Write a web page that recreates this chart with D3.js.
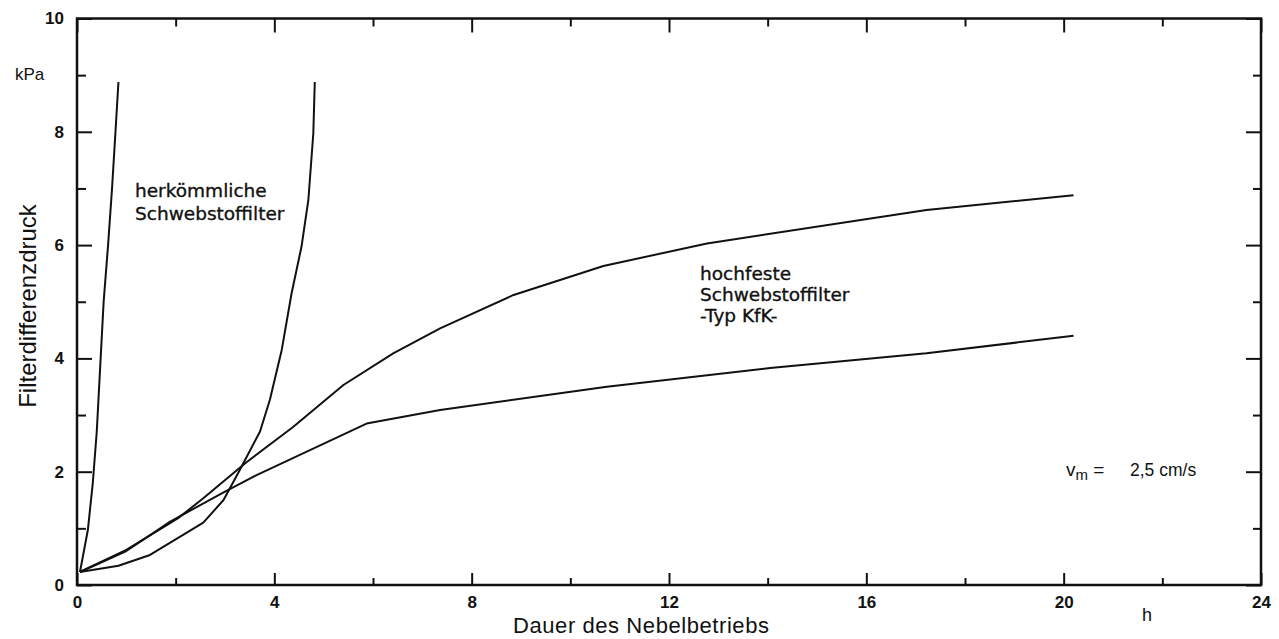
<!DOCTYPE html>
<html>
<head>
<meta charset="utf-8">
<script src="https://cdn.jsdelivr.net/npm/d3@7/dist/d3.min.js"></script>
<style>
  html, body { margin: 0; padding: 0; background: #fff; }
  svg { display: block; }
  .tick text { font-family: "Liberation Sans", Arial, sans-serif; font-weight: bold; font-size: 17px; fill: #111; }
</style>
</head>
<body>
<svg id="chart" width="1279" height="639"></svg>
<script>
// Filter pressure drop (kPa) over fog operation time (h)
const xMajorTicks = [0, 4, 8, 12, 16, 20, 24];
const xMinorTicks = [2, 6, 10, 14, 18, 22];
const yMajorTicks = [0, 2, 4, 6, 8, 10];
const yMinorTicks = [1, 3, 5, 7, 9];

// conventional HEPA filters (two curves)
const conventional1 = [[0.06,0.23],[0.22,0.97],[0.32,1.8],[0.4,2.7],[0.47,3.85],[0.54,5.0],[0.63,6.0],[0.71,7.0],[0.78,8.0],[0.84,8.88]];
const conventional2 = [[0.06,0.23],[0.84,0.34],[1.48,0.53],[2.56,1.1],[2.97,1.5],[3.3,2.03],[3.71,2.71],[3.91,3.27],[4.15,4.15],[4.35,5.15],[4.55,5.97],[4.69,6.8],[4.79,7.97],[4.82,8.88]];
// high-strength filters, type KfK (two curves)
const kfkUpper = [[0.06,0.23],[1.0,0.62],[2.05,1.18],[2.56,1.53],[3.41,2.15],[4.38,2.79],[5.4,3.53],[6.41,4.09],[7.36,4.53],[8.85,5.12],[10.67,5.63],[12.77,6.03],[17.22,6.62],[20.2,6.88]];
const kfkLower = [[0.06,0.23],[1.0,0.6],[1.89,1.12],[3.0,1.65],[3.64,1.94],[5.87,2.85],[7.36,3.09],[10.74,3.5],[14.05,3.83],[17.22,4.09],[20.2,4.4]];

const svg = d3.select("#chart");
const plotLeft = 77, plotRight = 1261, plotTop = 18.5, plotBottom = 585;

const x = d3.scaleLinear().domain([0, 24]).range([plotLeft, plotRight]);
const y = d3.scaleLinear().domain([0, 10]).range([plotBottom, plotTop]);

function styleAxis(g) {
  g.select(".domain").remove();
  g.selectAll(".tick line").attr("stroke", "#111").attr("stroke-width", 2);
}

// bottom axis: major with labels, minor without
svg.append("g").attr("transform", `translate(0,${plotBottom})`)
  .call(d3.axisBottom(x).tickValues(xMajorTicks).tickSize(-12).tickPadding(11).tickFormat(d3.format("d")))
  .call(styleAxis).call(g => g.selectAll("text").attr("dy", "0.71em"));
svg.append("g").attr("transform", `translate(0,${plotBottom})`)
  .call(d3.axisBottom(x).tickValues(xMinorTicks).tickSize(-7).tickFormat(""))
  .call(styleAxis);
// top axis
svg.append("g").attr("transform", `translate(0,${plotTop})`)
  .call(d3.axisTop(x).tickValues(xMajorTicks).tickSize(-14).tickFormat(""))
  .call(styleAxis);
svg.append("g").attr("transform", `translate(0,${plotTop})`)
  .call(d3.axisTop(x).tickValues(xMinorTicks).tickSize(-8).tickFormat(""))
  .call(styleAxis);
// left axis
svg.append("g").attr("transform", `translate(${plotLeft},0)`)
  .call(d3.axisLeft(y).tickValues(yMajorTicks).tickSize(-15).tickPadding(13).tickFormat(d3.format("d")))
  .call(styleAxis);
svg.append("g").attr("transform", `translate(${plotLeft},0)`)
  .call(d3.axisLeft(y).tickValues(yMinorTicks).tickSize(-9).tickFormat(""))
  .call(styleAxis);
// right axis
svg.append("g").attr("transform", `translate(${plotRight},0)`)
  .call(d3.axisRight(y).tickValues(yMajorTicks).tickSize(-15).tickFormat(""))
  .call(styleAxis);
svg.append("g").attr("transform", `translate(${plotRight},0)`)
  .call(d3.axisRight(y).tickValues(yMinorTicks).tickSize(-8).tickFormat(""))
  .call(styleAxis);

// frame
svg.append("rect")
  .attr("x", plotLeft).attr("y", plotTop)
  .attr("width", plotRight - plotLeft).attr("height", plotBottom - plotTop)
  .attr("fill", "none").attr("stroke", "#111").attr("stroke-width", 2.5);

// curves
const line = d3.line().x(d => x(d[0])).y(d => y(d[1]));
[conventional1, conventional2, kfkUpper, kfkLower].forEach(series => {
  svg.append("path").datum(series)
    .attr("d", line)
    .attr("fill", "none").attr("stroke", "#111")
    .attr("stroke-width", 2).attr("stroke-linejoin", "round");
});

const sans = "'Liberation Sans', Arial, sans-serif";
const labelFont = "'DejaVu Sans', 'Liberation Sans', sans-serif";

// axis titles and units
svg.append("text").attr("x", 15).attr("y", 80)
  .attr("font-family", sans).attr("font-size", 17)
  .attr("fill", "#111").text("kPa");
svg.append("text").attr("x", 1147).attr("y", 621).attr("text-anchor", "middle")
  .attr("font-family", sans).attr("font-size", 18)
  .attr("fill", "#111").text("h");
svg.append("text").attr("x", 641).attr("y", 633).attr("text-anchor", "middle")
  .attr("font-family", sans).attr("font-size", 22).attr("textLength", 256)
  .attr("fill", "#111").text("Dauer des Nebelbetriebs");
svg.append("text")
  .attr("transform", "translate(36,306) rotate(-90)").attr("text-anchor", "middle")
  .attr("font-family", sans).attr("font-size", 24)
  .attr("fill", "#111").text("Filterdifferenzdruck");

// curve annotations
const ann1 = svg.append("text").attr("font-family", labelFont).attr("font-size", 18.5)
  .attr("fill", "#111").attr("stroke", "#111").attr("stroke-width", 0.35);
ann1.append("tspan").attr("x", 135).attr("y", 197).text("herkömmliche");
ann1.append("tspan").attr("x", 135).attr("y", 220).text("Schwebstoffilter");

const ann2 = svg.append("text").attr("font-family", labelFont).attr("font-size", 18.5)
  .attr("fill", "#111").attr("stroke", "#111").attr("stroke-width", 0.35);
ann2.append("tspan").attr("x", 700).attr("y", 280).text("hochfeste");
ann2.append("tspan").attr("x", 700).attr("y", 301).text("Schwebstoffilter");
ann2.append("tspan").attr("x", 700).attr("y", 322).text("-Typ KfK-");

// filter face velocity
const vm = svg.append("text").attr("x", 1066).attr("y", 476)
  .attr("font-family", sans).attr("font-size", 19)
  .attr("fill", "#111");
vm.append("tspan").text("v");
vm.append("tspan").attr("font-size", 15).attr("dy", 4).text("m");
vm.append("tspan").attr("dy", -4).text(" =");
svg.append("text").attr("x", 1130).attr("y", 476)
  .attr("font-family", sans).attr("font-size", 17.5)
  .attr("fill", "#111").text("2,5 cm/s");
</script>
</body>
</html>
